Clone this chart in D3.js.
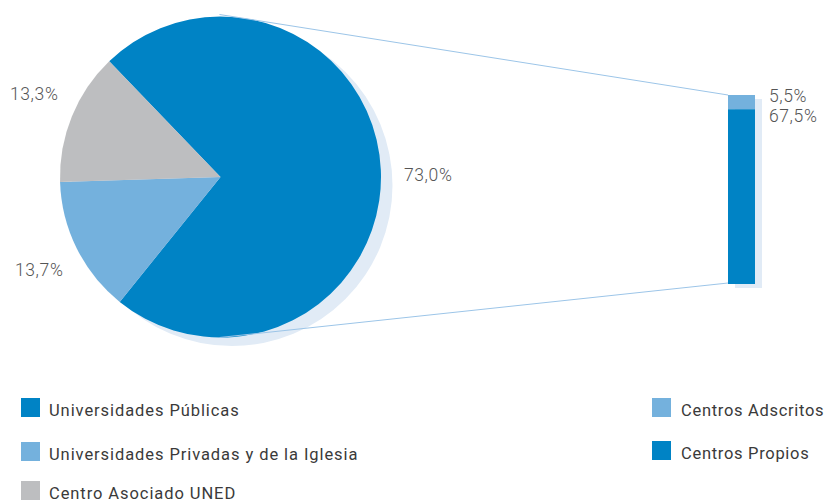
<!DOCTYPE html>
<html>
<head>
<meta charset="utf-8">
<script src="https://cdn.jsdelivr.net/npm/d3@7"></script>
<style>
  html, body { margin: 0; padding: 0; background: #fff; }
  svg { display: block; font-family: Roboto, "Noto Sans", sans-serif; }
</style>
</head>
<body>
<svg id="chart" width="825" height="502"></svg>
<script>
// Distribución por tipo de universidad (pie) y desglose de las públicas (barra)
const pieCategories = ["Universidades Públicas", "Universidades Privadas y de la Iglesia", "Centro Asociado UNED"];
const pieValues = [73.0, 13.7, 13.3];
const pieColors = ["#0083c5", "#74b1dd", "#bdbec0"];

const barCategories = ["Centros Adscritos", "Centros Propios"];
const barValues = [5.5, 67.5];
const barColors = ["#74b1dd", "#0083c5"];

const fmt = v => v.toFixed(1).replace(".", ",") + "%";

const svg = d3.select("#chart");
const shadowColor = "#e1ebf6";
const textColor = "#555";

// ---- Pie ----
const cx = 220.5, cy = 177, r = 160.5;
const startAngle = -43.9 * Math.PI / 180;

const pie = d3.pie().sort(null).value(d => d)
  .startAngle(startAngle).endAngle(startAngle + 2 * Math.PI);
const arcs = pie(pieValues);
const arc = d3.arc().innerRadius(0).outerRadius(r);

svg.append("circle")
  .attr("cx", cx + 11.5).attr("cy", cy + 8.5).attr("r", r)
  .attr("fill", shadowColor);

const gPie = svg.append("g").attr("transform", `translate(${cx},${cy})`);
gPie.selectAll("path").data(arcs).join("path")
  .attr("d", arc)
  .attr("fill", (d, i) => pieColors[i]);

// pie labels
const pieLabelPos = [[404, 181], [15, 276], [10, 100]];
svg.selectAll("text.pie-label").data(arcs).join("text")
  .attr("class", "pie-label")
  .attr("x", (d, i) => pieLabelPos[i][0])
  .attr("y", (d, i) => pieLabelPos[i][1])
  .attr("font-size", 17.5).attr("font-weight", 300)
  .attr("letter-spacing", 0.6)
  .attr("fill", textColor)
  .text(d => fmt(d.data));

// ---- Stacked bar ----
const barX = 728, barW = 27, barTop = 95, barBottom = 284;
const total = d3.sum(barValues);
const y = d3.scaleLinear().domain([0, total]).range([barTop, barBottom]);

svg.append("rect")
  .attr("x", barX + 7).attr("y", barTop + 4)
  .attr("width", barW).attr("height", barBottom - barTop)
  .attr("fill", shadowColor);

let acc = 0;
const stacked = barValues.map((v, i) => { const s = acc; acc += v; return { v, i, s, e: acc }; });

svg.selectAll("rect.seg").data(stacked).join("rect")
  .attr("class", "seg")
  .attr("x", barX).attr("width", barW)
  .attr("y", d => y(d.s))
  .attr("height", d => y(d.e) - y(d.s))
  .attr("fill", d => barColors[d.i]);

svg.selectAll("text.bar-label").data(stacked).join("text")
  .attr("class", "bar-label")
  .attr("x", 769)
  .attr("y", (d, i) => 102 + i * 20)
  .attr("font-size", 17.5).attr("font-weight", 300)
  .attr("letter-spacing", 0.6)
  .attr("fill", textColor)
  .text(d => fmt(d.v));

// ---- Connector lines from pie to bar ----
const connectors = [
  [[cx - 1, cy - r - 2], [barX, barTop]],
  [[cx - 1, cy + r], [barX, barBottom - 1]]
];
svg.selectAll("line.conn").data(connectors).join("line")
  .attr("class", "conn")
  .attr("x1", d => d[0][0]).attr("y1", d => d[0][1])
  .attr("x2", d => d[1][0]).attr("y2", d => d[1][1])
  .attr("stroke", "#9cc5e8").attr("stroke-width", 1);

// ---- Legends ----
const legendLeft = svg.append("g").attr("transform", "translate(21,398)");
const rowsL = legendLeft.selectAll("g").data(pieCategories).join("g")
  .attr("transform", (d, i) => `translate(0,${[0, 44, 83][i]})`);
rowsL.append("rect").attr("width", 19).attr("height", 19)
  .attr("fill", (d, i) => pieColors[i]);
rowsL.append("text").attr("x", 28).attr("y", 18)
  .attr("font-size", 16.5).attr("fill", "#3a3a3a")
  .attr("letter-spacing", 0.92)
  .text(d => d);

const legendRight = svg.append("g").attr("transform", "translate(652,398)");
const rowsR = legendRight.selectAll("g").data(barCategories).join("g")
  .attr("transform", (d, i) => `translate(0,${i * 43})`);
rowsR.append("rect").attr("width", 19).attr("height", 19)
  .attr("fill", (d, i) => barColors[i]);
rowsR.append("text").attr("x", 29).attr("y", 18)
  .attr("font-size", 16.5).attr("fill", "#3a3a3a")
  .attr("letter-spacing", 0.7)
  .text(d => d);
</script>
</body>
</html>
